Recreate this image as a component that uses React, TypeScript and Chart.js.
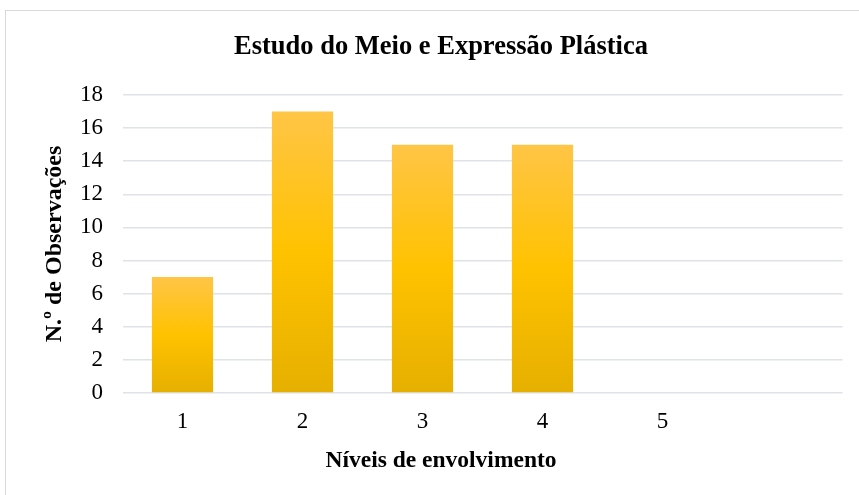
import React, { useEffect, useRef } from "react";
import { Chart, registerables } from "chart.js";

Chart.register(...registerables);

const categories = ["1", "2", "3", "4", "5", ""];
const observations = [7, 17, 15, 15, 0, null];
const yTicks = [0, 2, 4, 6, 8, 10, 12, 14, 16, 18];
const chartTitle = "Estudo do Meio e Expressão Plástica";
const yTitle = "N.º de Observações";
const xTitle = "Níveis de envolvimento";

const FONT = "'Liberation Serif', 'Times New Roman', serif";

export default function App() {
  const ref = useRef<HTMLCanvasElement | null>(null);

  useEffect(() => {
    document.body.style.margin = "0";
    const canvas = ref.current;
    if (!canvas) return;
    const chart = new Chart(canvas, {
      type: "bar",
      data: {
        labels: categories,
        datasets: [
          {
            data: observations as any,
            backgroundColor: (ctx: any) => {
              const c = ctx.chart;
              const y = c.scales?.y;
              const v = ctx.raw;
              if (!y || v == null) return "#FFC000";
              const top = y.getPixelForValue(v);
              const bot = y.getPixelForValue(0);
              if (!isFinite(top) || !isFinite(bot) || top === bot) return "#FFC000";
              const g = c.ctx.createLinearGradient(0, top, 0, bot);
              g.addColorStop(0, "#FFC546");
              g.addColorStop(0.5, "#FFC200");
              g.addColorStop(1, "#E6B000");
              return g;
            },
            borderWidth: 0,
            categoryPercentage: 1,
            barPercentage: 0.51,
          },
        ],
      },
      options: {
        animation: false,
        responsive: false,
        maintainAspectRatio: false,
        layout: { padding: { left: 39.5, right: 16.5, top: 0, bottom: 0 } },
        plugins: {
          legend: { display: false },
          tooltip: { enabled: false },
          title: {
            display: true,
            text: chartTitle,
            color: "#000",
            font: { family: FONT, size: 26.5, weight: "bold" },
            padding: { top: 31, bottom: 32.2 },
          },
          subtitle: {
            display: true,
            position: "bottom",
            text: xTitle,
            color: "#000",
            font: { family: FONT, size: 23.5, weight: "bold" },
            padding: { top: 10, bottom: 19.9 },
          },
        },
        scales: {
          x: {
            grid: { display: false },
            border: { display: false },
            ticks: {
              color: "#000",
              font: { family: FONT, size: 23 },
              padding: 7,
              maxRotation: 0,
            },
            afterFit: (s: any) => {
              s.height = 43.9;
            },
          },
          y: {
            min: 0,
            max: 18,
            afterBuildTicks: (s: any) => {
              s.ticks = yTicks.map((v) => ({ value: v }));
            },
            grid: { color: "#dfe2e6", lineWidth: 1.5, drawTicks: false },
            border: { display: false },
            ticks: {
              color: "#000",
              font: { family: FONT, size: 23 },
              padding: 19.5,
            },
            title: {
              display: true,
              text: yTitle,
              color: "#000",
              font: { family: FONT, size: 24, weight: "bold" },
              padding: { top: 1.1, bottom: 0 },
            },
            afterFit: (s: any) => {
              s.width = 83;
            },
          },
        },
      },
    });
    return () => chart.destroy();
  }, []);

  return (
    <div style={{ position: "relative", width: 859, height: 495, overflow: "hidden", background: "#fff" }}>
      <canvas ref={ref} width={859} height={495} style={{ position: "absolute", left: 0, top: 0 }} />
      <div
        style={{
          position: "absolute",
          left: 5,
          top: 10,
          width: 900,
          height: 600,
          border: "1px solid #d9d9d9",
          pointerEvents: "none",
        }}
      />
    </div>
  );
}
